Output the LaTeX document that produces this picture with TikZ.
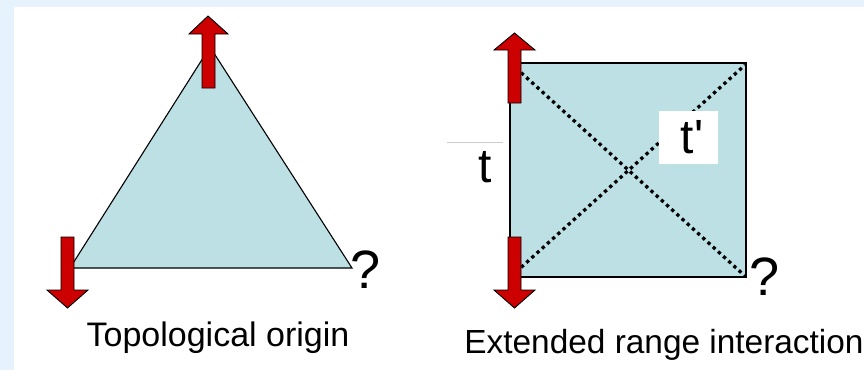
\documentclass[tikz,border=0pt]{standalone}
\usepackage{fontspec}
\setmainfont{Liberation Sans}
\definecolor{bgblue}{RGB}{230,243,252}
\definecolor{shapefill}{RGB}{188,224,228}
\definecolor{arrowred}{RGB}{204,0,0}
\tikzset{
  spin/.style={fill=arrowred,draw=black,line width=0.9pt,line join=miter},
  shapeline/.style={draw=black,fill=shapefill,line width=1.1pt},
  dotline/.style={line width=3.3pt,line cap=butt,dash pattern=on 3.3pt off 3.7pt},
  label/.style={inner sep=0pt,anchor=base},
  whitebox/.style={fill=white,draw=none}
}
\begin{document}
\begin{tikzpicture}[x=1pt,y=-1pt]
\useasboundingbox (0,0) rectangle (864,370);
\fill[bgblue] (0,0) rectangle (864,370);
\fill[white] (14,7) rectangle (864,370);
% triangle
\coordinate (A) at (210,47);
\coordinate (B) at (70,268);
\coordinate (C) at (352,268);
\draw[shapeline] (A) -- (B) -- (C) -- cycle;
% square
\coordinate (S1) at (510,63);
\coordinate (S2) at (746,63);
\coordinate (S3) at (746,277);
\coordinate (S4) at (510,277);
\draw[shapeline,line width=1.3pt] (S1) -- (S2) -- (S3) -- (S4) -- cycle;
\coordinate (D1a) at (516,68);
\coordinate (D1b) at (745,276);
\coordinate (D2a) at (516,272);
\coordinate (D2b) at (745,65);
\draw[dotline] (D1a) -- (D1b);
\draw[dotline] (D2a) -- (D2b);
% label boxes
\fill[whitebox] (447,142) rectangle (503,195);
\draw[gray!40,line width=0.6pt] (447,142) -- (503,142);
\fill[whitebox] (659,111) rectangle (718,164);
\node[label,font=\fontsize{48}{48}\selectfont] (t) at (485,182) {t};
\node[label,font=\fontsize{48}{48}\selectfont] (tp) at (692,153) {t\textquotesingle};
% arrows
\draw[spin] (202,88) -- (202,34) -- (189,34) -- (208,16) -- (228,34) -- (215,34) -- (215,88) -- cycle;
\draw[spin] (61,237) -- (61,290) -- (47,290) -- (67.5,308) -- (88,290) -- (74,290) -- (74,237) -- cycle;
\draw[spin] (508,103) -- (508,50) -- (494,50) -- (514.5,33) -- (535,50) -- (521,50) -- (521,103) -- cycle;
\draw[spin] (508,237) -- (508,290) -- (494,290) -- (514.5,308) -- (535,290) -- (521,290) -- (521,237) -- cycle;
% question marks
\node[label,font=\fontsize{54}{54}\selectfont] (q1) at (366,288) {?};
\node[label,font=\fontsize{54}{54}\selectfont] (q2) at (765,295) {?};
% captions
\node[label,font=\fontsize{34}{34}\selectfont] (cap1) at (218,346) {Topological origin};
\node[label,font=\fontsize{33.4}{34}\selectfont] (cap2) at (664,353) {Extended range interaction};
\end{tikzpicture}
\end{document}
